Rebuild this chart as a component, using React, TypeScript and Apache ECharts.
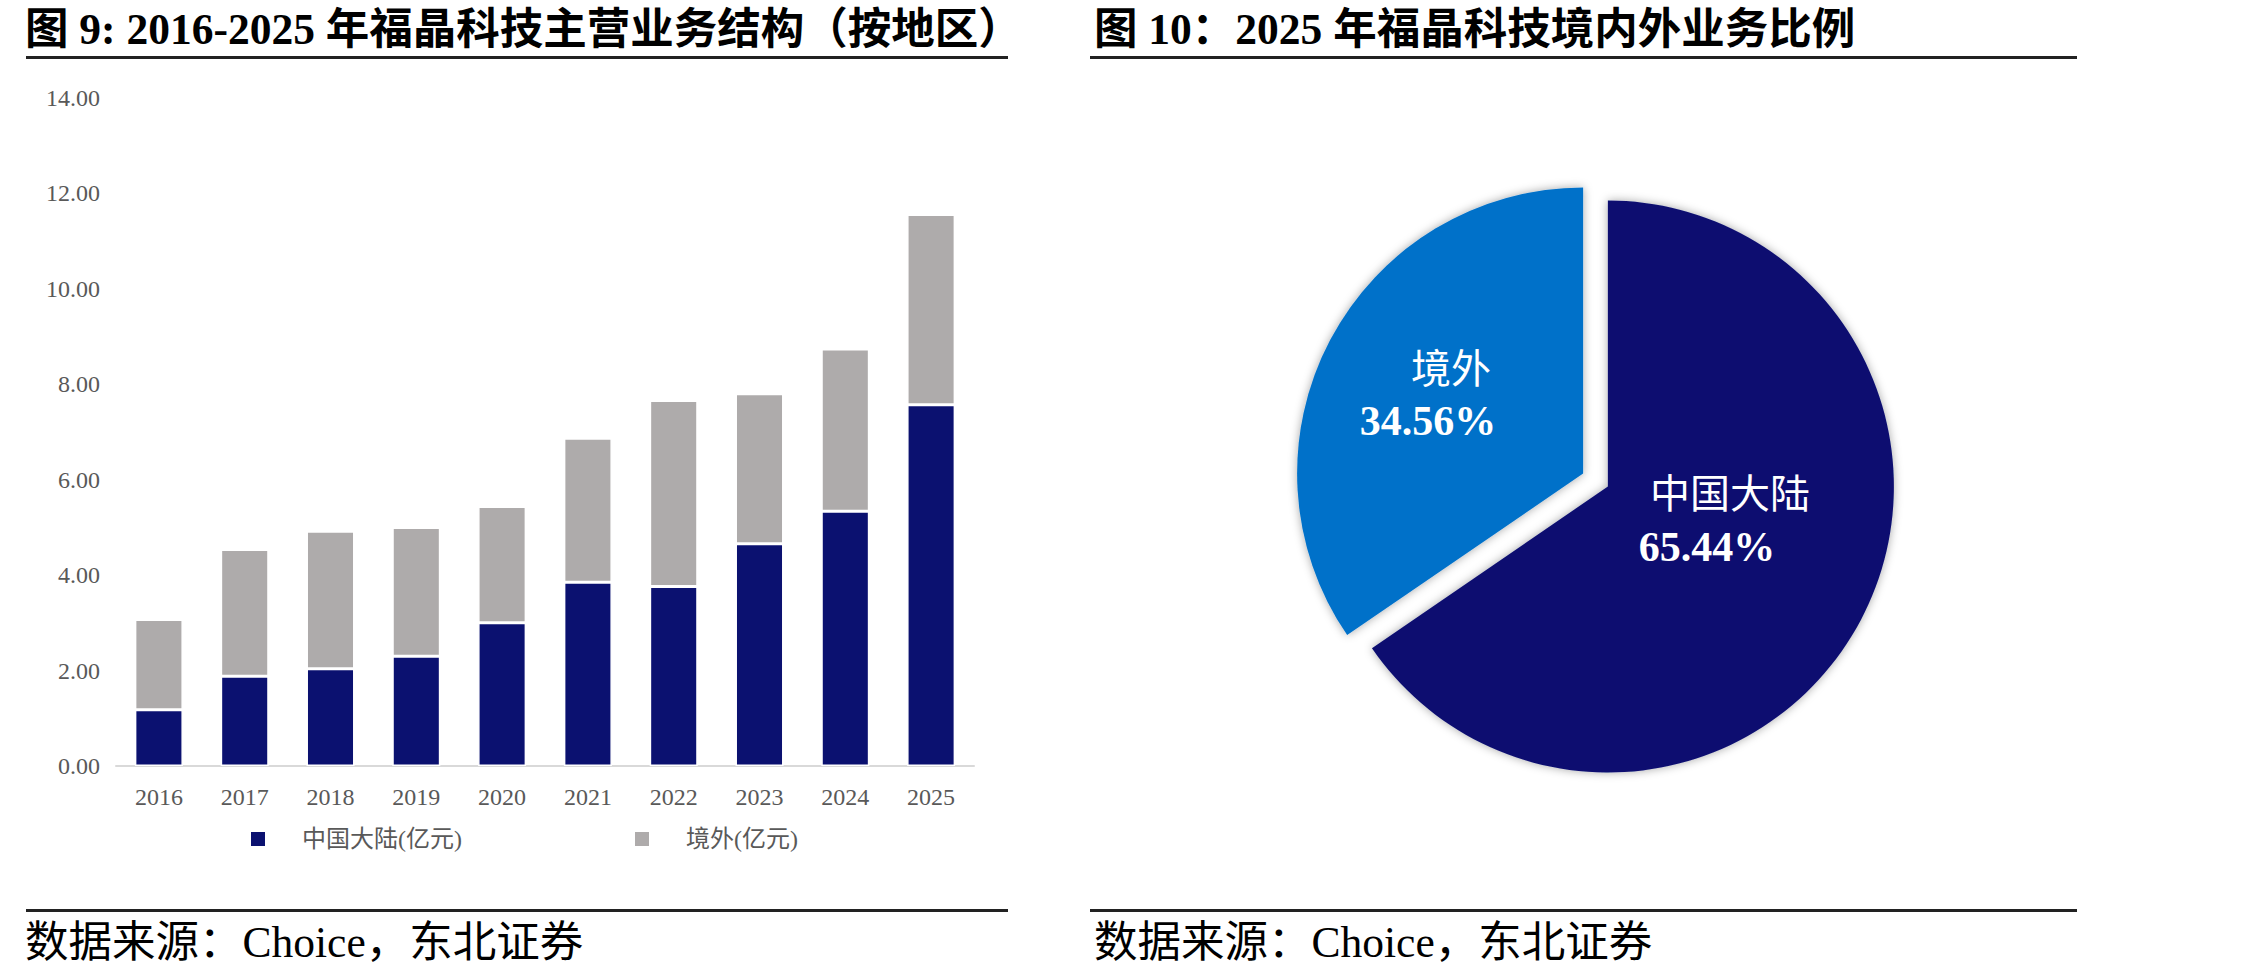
import React, { useEffect, useRef } from "react";
import * as echarts from "echarts";

// ---- data ----
const years = ["2016", "2017", "2018", "2019", "2020", "2021", "2022", "2023", "2024", "2025"];
const mainland = [1.18, 1.88, 2.04, 2.3, 3.0, 3.85, 3.76, 4.66, 5.34, 7.57];
const overseas = [1.89, 2.66, 2.88, 2.7, 2.44, 3.02, 3.9, 3.14, 3.4, 3.99];
const seriesNames = ["中国大陆(亿元)", "境外(亿元)"];
const pieNames = ["中国大陆", "境外"];
const pieValues = [65.44, 34.56];
const yTicks = { min: 0, max: 14, interval: 2 };

const leftTitle = "图 9: 2016-2025 年福晶科技主营业务结构（按地区）";
const rightTitle = "图 10：2025 年福晶科技境内外业务比例";
const source = "数据来源：Choice，东北证券";

// ---- styles ----
const NAVY = "#0B1170";
const GRAY = "#AEABAB";
const BLUE = "#0071C9";
const pieColors = [NAVY, BLUE];
const AXIS_TEXT = "#595959";
const FONT = '"Liberation Serif", "Noto Sans CJK SC", serif';

export default function App() {
  const ref = useRef<HTMLDivElement>(null);

  useEffect(() => {
    if (!ref.current) return;
    const chart = echarts.init(ref.current, null, { renderer: "svg" });

    const legendText = { fontSize: 24, color: AXIS_TEXT, fontFamily: FONT, padding: [0, 0, 0, 31] };

    const option: any = {
      animation: false,
      backgroundColor: "#fff",
      textStyle: { fontFamily: FONT },
      grid: { left: 116, top: 98, width: 858, height: 668, containLabel: false },
      legend: [
        {
          data: [seriesNames[0]],
          left: 244,
          top: 822,
          icon: "rect",
          itemWidth: 16,
          itemHeight: 16,
          textStyle: legendText,
        },
        {
          data: [seriesNames[1]],
          left: 628,
          top: 822,
          icon: "rect",
          itemWidth: 16,
          itemHeight: 16,
          textStyle: legendText,
        },
      ],
      xAxis: {
        type: "category",
        data: years,
        axisLine: { lineStyle: { color: "#D9D9D9", width: 2 } },
        axisTick: { show: false },
        axisLabel: { fontSize: 24, color: AXIS_TEXT, fontFamily: FONT, margin: 19 },
      },
      yAxis: {
        type: "value",
        min: yTicks.min,
        max: yTicks.max,
        interval: yTicks.interval,
        splitLine: { show: false },
        axisLine: { show: false },
        axisTick: { show: false },
        axisLabel: {
          fontSize: 24,
          color: AXIS_TEXT,
          fontFamily: FONT,
          margin: 16,
          formatter: (v: number) => v.toFixed(2),
        },
      },
      series: [
        {
          name: seriesNames[0],
          type: "bar",
          stack: "total",
          data: mainland,
          barWidth: "56%",
          itemStyle: { color: NAVY, borderColor: "#fff", borderWidth: 1.5 },
        },
        {
          name: seriesNames[1],
          type: "bar",
          stack: "total",
          data: overseas,
          barWidth: "56%",
          itemStyle: { color: GRAY, borderColor: "#fff", borderWidth: 1.5 },
        },
        {
          name: "比例",
          type: "pie",
          center: [1595.5, 480],
          radius: 286,
          startAngle: 90,
          clockwise: true,
          selectedMode: "multiple",
          selectedOffset: 14,
          avoidLabelOverlap: false,
          data: pieNames.map((n, i) => ({
            name: n,
            value: pieValues[i],
            selected: true,
            itemStyle: { color: pieColors[i] },
            select: { itemStyle: { color: pieColors[i] } },
          })),
          itemStyle: { shadowBlur: 10, shadowColor: "rgba(0,0,0,0.35)" },
          label: {
            show: true,
            position: "inside",
            formatter: (p: any) => `{n|${p.name}}\n{v|${p.value.toFixed(2)}%}`,
            align: "center",
            rich: {
              n: {
                fontSize: 40,
                color: "#fff",
                fontFamily: FONT,
                lineHeight: 52,
                padding: [0, 0, 0, 46],
              },
              v: {
                fontSize: 42,
                fontWeight: "bold",
                color: "#fff",
                fontFamily: FONT,
                lineHeight: 52,
              },
            },
          },
          labelLine: { show: false },
          labelLayout: (p: any) => (p.dataIndex === 0 ? { dx: -30, dy: -34 } : { dx: -26, dy: -10 }),
          emphasis: { disabled: true },
        },
      ],
      graphic: [
        {
          type: "text",
          x: 25,
          y: 29,
          style: { text: leftTitle, font: `bold 43.5px ${FONT}`, fill: "#000", verticalAlign: "middle" },
        },
        {
          type: "text",
          x: 1094,
          y: 29,
          style: { text: rightTitle, font: `bold 43.5px ${FONT}`, fill: "#000", verticalAlign: "middle" },
        },
        { type: "rect", shape: { x: 26, y: 56, width: 982, height: 3 }, style: { fill: "#222" } },
        { type: "rect", shape: { x: 1090, y: 56, width: 987, height: 3 }, style: { fill: "#222" } },
        { type: "rect", shape: { x: 26, y: 909, width: 982, height: 3 }, style: { fill: "#222" } },
        { type: "rect", shape: { x: 1090, y: 909, width: 987, height: 3 }, style: { fill: "#222" } },
        {
          type: "text",
          x: 25,
          y: 942,
          style: { text: source, font: `43.5px ${FONT}`, fill: "#000", verticalAlign: "middle" },
        },
        {
          type: "text",
          x: 1094,
          y: 942,
          style: { text: source, font: `43.5px ${FONT}`, fill: "#000", verticalAlign: "middle" },
        },
      ],
    };

    chart.setOption(option);
    return () => chart.dispose();
  }, []);

  return (
    <div
      ref={ref}
      style={{ position: "fixed", left: 0, top: 0, width: 2268, height: 975, background: "#fff" }}
    />
  );
}
